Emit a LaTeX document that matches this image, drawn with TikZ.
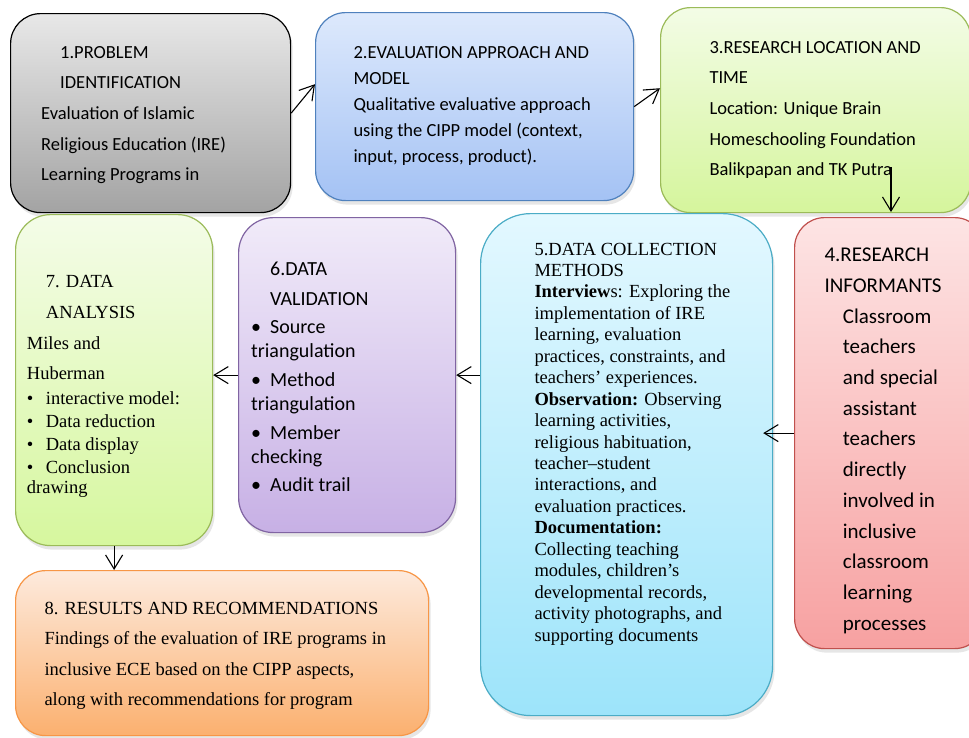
\documentclass[tikz,border=0pt]{standalone}
\usepackage{fontspec}
\setmainfont{Liberation Serif}
\newfontfamily\calibri{Carlito}
\usetikzlibrary{arrows.meta,shadows}

\definecolor{probtop}{HTML}{E8E8E8}
\definecolor{probbot}{HTML}{A3A3A3}
\definecolor{evaledge}{HTML}{4F81BD}
\definecolor{evaltop}{HTML}{DDE9FC}
\definecolor{evalbot}{HTML}{A4C2F4}
\definecolor{locedge}{HTML}{9BBB59}
\definecolor{loctop}{HTML}{F3FCE6}
\definecolor{locbot}{HTML}{D5F59C}
\definecolor{infoedge}{HTML}{C0504D}
\definecolor{infotop}{HTML}{FDE4E4}
\definecolor{infobot}{HTML}{F7A1A1}
\definecolor{colledge}{HTML}{4BACC6}
\definecolor{colltop}{HTML}{E3F8FF}
\definecolor{collbot}{HTML}{9DE4FA}
\definecolor{validedge}{HTML}{8064A2}
\definecolor{validtop}{HTML}{F1EBF9}
\definecolor{validbot}{HTML}{C7B0E5}
\definecolor{anatop}{HTML}{F4FCE8}
\definecolor{anabot}{HTML}{D6F79E}
\definecolor{resedge}{HTML}{F79646}
\definecolor{restop}{HTML}{FDEADD}
\definecolor{resbot}{HTML}{FBB06F}

\tikzset{
  stage/.style={draw, line width=1.2pt, rounded corners=30pt, anchor=north west,
    inner sep=0pt, drop shadow={opacity=0.2, shadow xshift=2pt, shadow yshift=-4pt}},
  % texts are placed by the baseline of their last line
  boxtext/.style={anchor=base west, align=left, inner sep=0pt, text=black},
  sanstext/.style={boxtext, font=\calibri\fontsize{18.5}{30.6}\selectfont},
  seriftext/.style={boxtext, font=\fontsize{18.5}{30.6}\selectfont},
  flow/.style={-{Straight Barb[length=14pt,width=17pt]}, line width=1.1pt},
}

\begin{document}
\begin{tikzpicture}[x=1pt, y=-1pt]
    \useasboundingbox (0,0) rectangle (969,737);

    % top row
    \node[stage, draw=black, top color=probtop, bottom color=probbot,
          minimum width=280pt, minimum height=199pt] (box1) at (10,13) {};
    \node[stage, draw=evaledge, top color=evaltop, bottom color=evalbot,
          minimum width=318pt, minimum height=188pt] (box2) at (315,12) {};
    \node[stage, draw=locedge, top color=loctop, bottom color=locbot,
          minimum width=310pt, minimum height=205pt] (box3) at (660,7) {};

    % lower row
    \node[stage, draw=infoedge, top color=infotop, bottom color=infobot,
          minimum width=190pt, minimum height=431pt] (box4) at (794,217) {};
    \node[stage, draw=colledge, top color=colltop, bottom color=collbot, rounded corners=50pt,
          minimum width=292pt, minimum height=502pt] (box5) at (480,213) {};
    \node[stage, draw=validedge, top color=validtop, bottom color=validbot, rounded corners=35pt,
          minimum width=217pt, minimum height=315pt] (box6) at (238,217) {};
    \node[stage, draw=locedge, top color=anatop, bottom color=anabot, rounded corners=35pt,
          minimum width=197pt, minimum height=331pt] (box7) at (15,214) {};
    \node[stage, draw=resedge, top color=restop, bottom color=resbot,
          minimum width=413pt, minimum height=165pt] (box8) at (15,570) {};

    % texts
    \node[sanstext] (txt1) at (41,180.7)
        {\hspace*{19pt}1.PROBLEM\\ \hspace*{19pt}IDENTIFICATION\\ Evaluation of Islamic\\
         Religious Education (IRE)\\ Learning Programs in};
    \node[sanstext, font=\calibri\fontsize{18.5}{26}\selectfont] (txt2) at (353.3,162.3)
        {2.EVALUATION APPROACH AND\\ MODEL\\ Qualitative evaluative approach\\
         using the CIPP model (context,\\ input, process, product).};
    \node[sanstext] (txt3) at (709.3,175.7)
        {3.RESEARCH LOCATION AND\\ TIME\\ Location: Unique Brain\\
         Homeschooling Foundation\\ Balikpapan and TK Putra};
    \node[sanstext, font=\calibri\fontsize{21}{30.7}\selectfont] (txt4) at (824.3,630.1)
        {4.RESEARCH\\ INFORMANTS\\ \hspace*{18.4pt}Classroom\\ \hspace*{18.4pt}teachers\\
         \hspace*{18.4pt}and special\\ \hspace*{18.4pt}assistant\\ \hspace*{18.4pt}teachers\\
         \hspace*{18.4pt}directly\\ \hspace*{18.4pt}involved in\\ \hspace*{18.4pt}inclusive\\
         \hspace*{18.4pt}classroom\\ \hspace*{18.4pt}learning\\ \hspace*{18.4pt}processes};
    \node[seriftext, font=\fontsize{18.5}{21.45}\selectfont] (txt5) at (534.3,641.1)
        {5.DATA COLLECTION\\ METHODS\\ \textbf{Interview}s: Exploring the\\
         implementation of IRE\\ learning, evaluation\\ practices, constraints, and\\
         teachers’ experiences.\\ \textbf{Observation:} Observing\\ learning activities,\\
         religious habituation,\\ teacher–student\\ interactions, and\\
         evaluation practices.\\ \textbf{Documentation:}\\ Collecting teaching\\
         modules, children’s\\ developmental records,\\ activity photographs, and\\
         supporting documents};
    \node[sanstext, font=\calibri\fontsize{20}{24.5}\selectfont] (txt6) at (251,491)
        {\hspace*{19pt}6.DATA\\[6pt] \hspace*{19pt}VALIDATION\\[3pt]
         \makebox[19pt][l]{•}Source\\ triangulation\\[4pt]
         \makebox[19pt][l]{•}Method\\ triangulation\\[4pt]
         \makebox[19pt][l]{•}Member\\ checking\\[3pt]
         \makebox[19pt][l]{•}Audit trail};
    \node[seriftext, font=\fontsize{18.5}{23}\selectfont] (txt7) at (26.7,493.3)
        {\hspace*{19pt}7. DATA\\[8pt] \hspace*{19pt}ANALYSIS\\[8pt] Miles and\\[7pt]
         Huberman\\[2pt] \makebox[19pt][l]{•}interactive model:\\
         \makebox[19pt][l]{•}Data reduction\\ \makebox[19pt][l]{•}Data display\\
         \makebox[19pt][l]{•}Conclusion\\[-3pt] drawing};
    \node[seriftext] (txt8) at (44.3,705.8)
        {8. RESULTS AND RECOMMENDATIONS\\ Findings of the evaluation of IRE programs in\\
         inclusive ECE based on the CIPP aspects,\\ along with recommendations for program};

    % connectors
    \coordinate (p34) at (891,167);
    \draw[flow] (box1.east) -- (box2.172);
    \draw[flow] (box2.east) -- (box3.172);
    \draw[flow, shorten >=5pt] (p34) -- (p34 |- box4.north);
    \draw[flow, shorten >=-10pt] (box4.west) -- (box5.east |- box4.west);
    \draw[flow] (box5.west |- box6.east) -- (box6.east);
    \draw[flow] (box6.west) -- (box7.east |- box6.west);
    \draw[flow] (box7.south) -- (box8.north -| box7.south);
\end{tikzpicture}
\end{document}
